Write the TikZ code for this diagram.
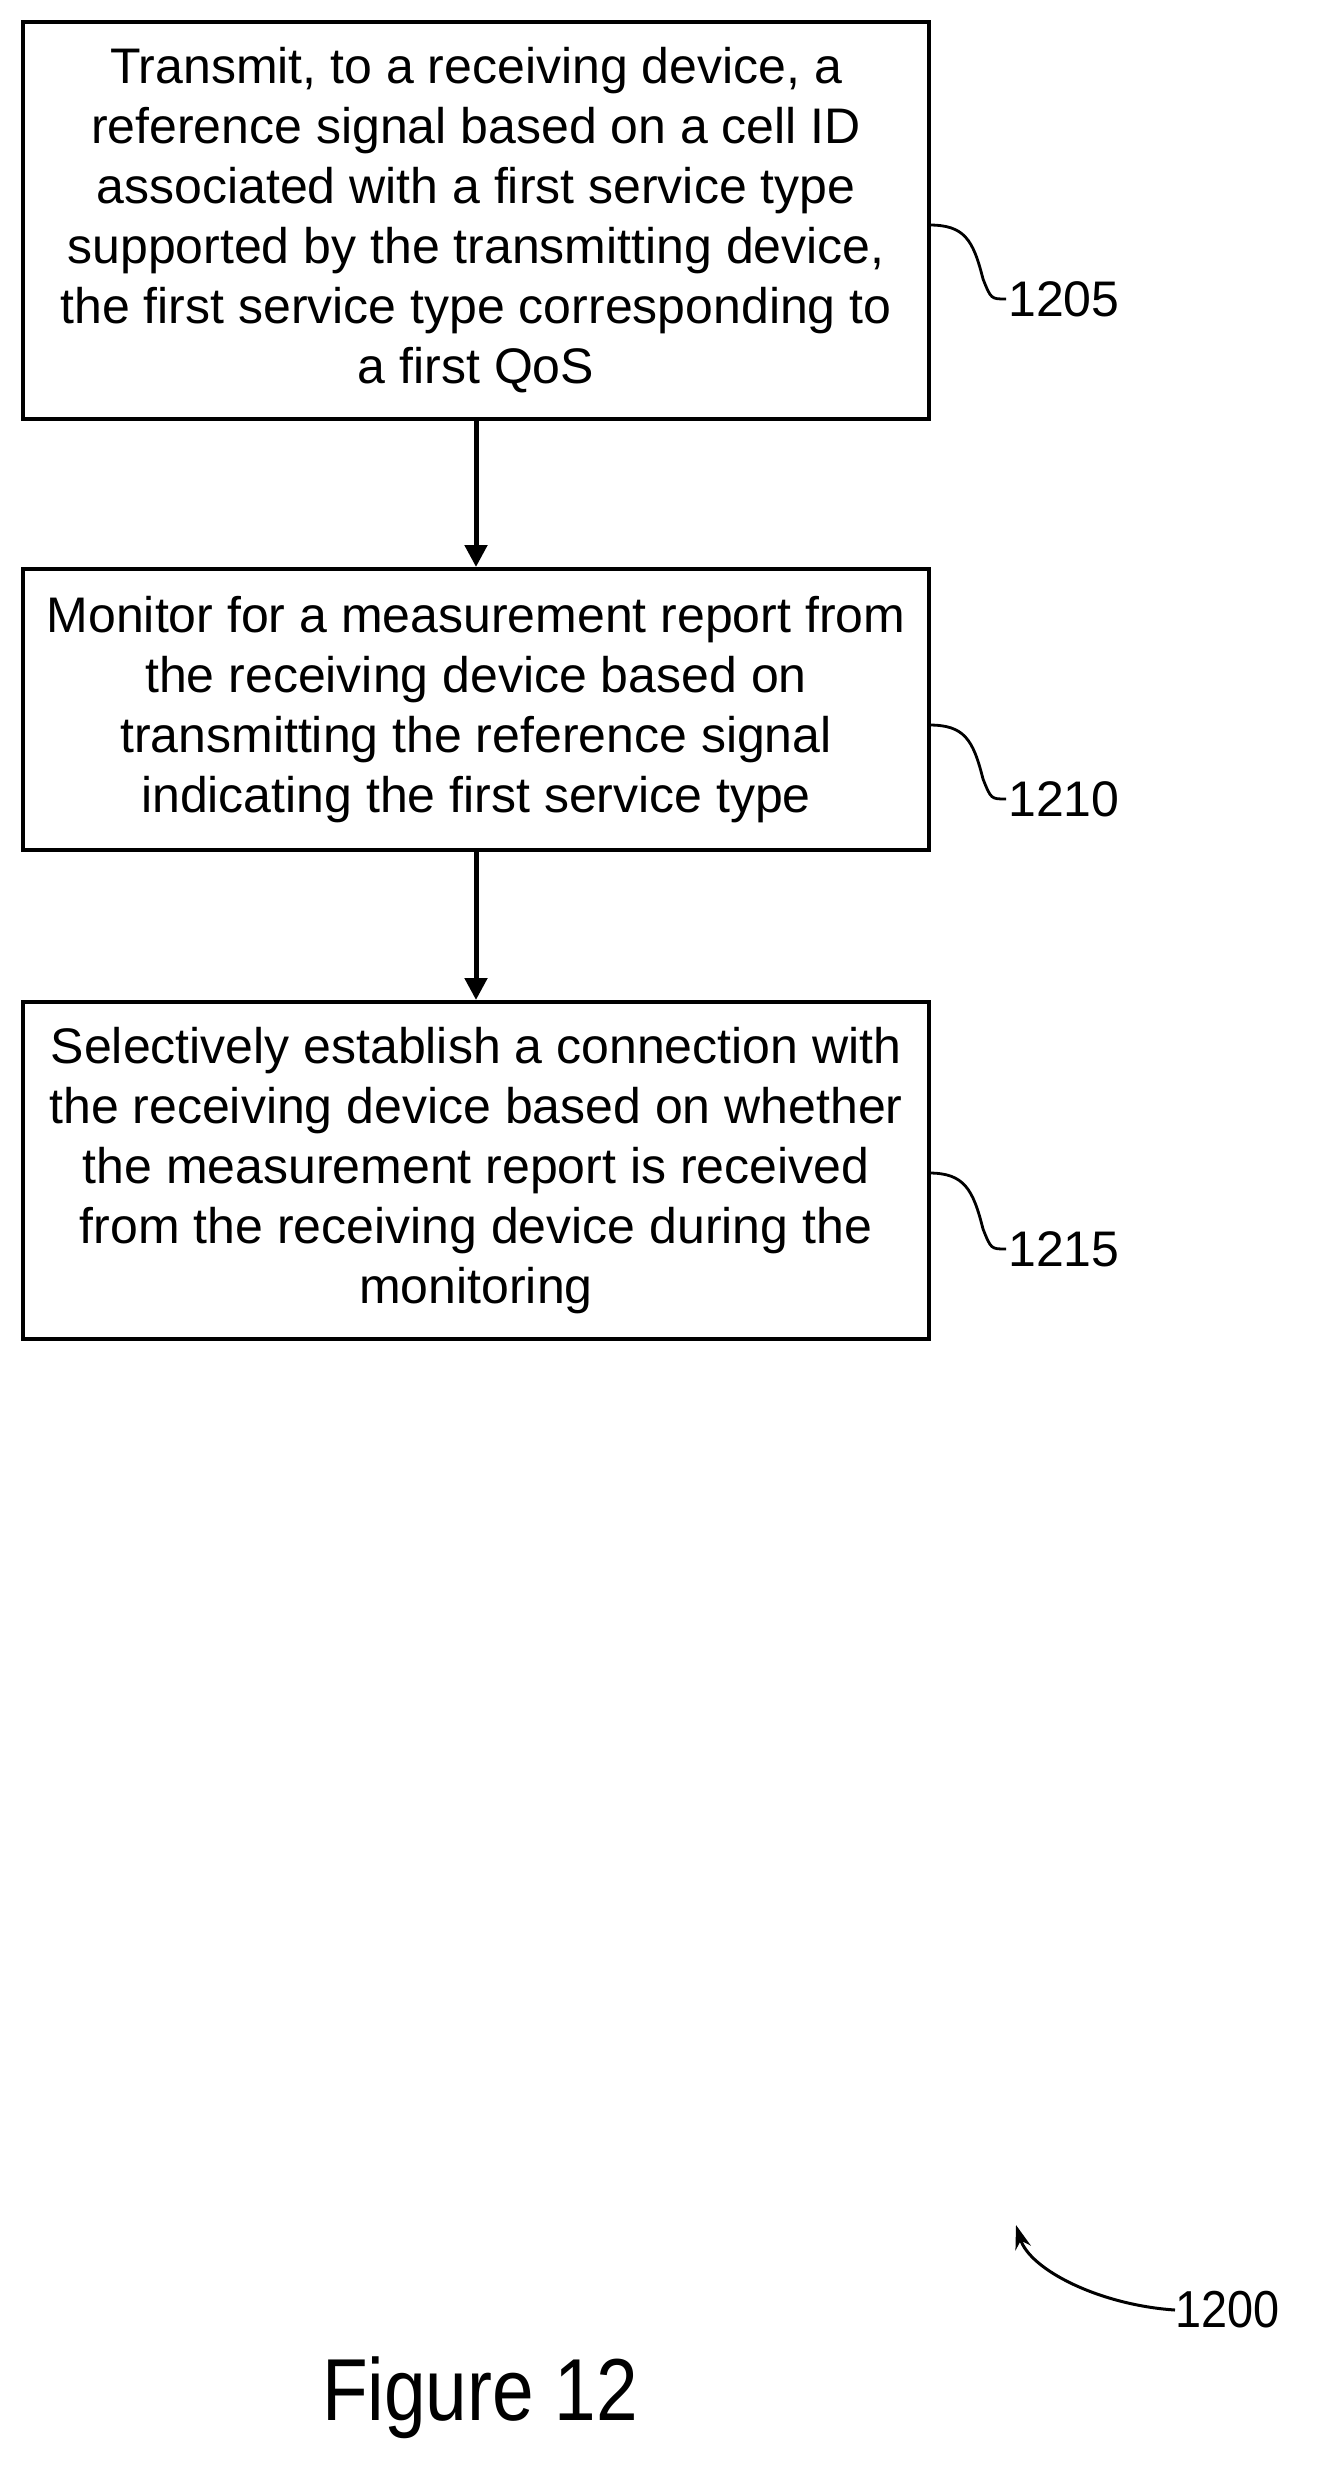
\documentclass[tikz,border=0pt]{standalone}
\usepackage{fontspec}
\setmainfont{Liberation Sans}
\usetikzlibrary{arrows.meta,calc}
\begin{document}
\begin{tikzpicture}[x=1pt,y=-1pt,
  box/.style={draw,line width=4pt,inner sep=0pt,align=center,font=\fontsize{50}{60}\selectfont},
  lbl/.style={font=\fontsize{50}{55}\selectfont,anchor=west,inner sep=0pt},
  arr/.style={line width=5pt,-{Triangle[length=22pt,width=22pt]}},
  sq/.style={line width=2.8pt}]
\useasboundingbox (0,0) rectangle (1320,2467);
\node[box,minimum width=906pt,minimum height=397pt] (b1) at (476,220.5) {Transmit, to a receiving device, a\\reference signal based on a cell ID\\associated with a first service type\\supported by the transmitting device,\\the first service type corresponding to\\a first QoS};
\node[box,minimum width=906pt,minimum height=281pt] (b2) at (476,709.5) {Monitor for a measurement report from\\the receiving device based on\\transmitting the reference signal\\indicating the first service type};
\node[box,minimum width=906pt,minimum height=337pt] (b3) at (476,1170.5) {Selectively establish a connection with\\the receiving device based on whether\\the measurement report is received\\from the receiving device during the\\monitoring};
\draw[arr] (b1.south) -- (b2.north);
\draw[arr] (b2.south) -- (b3.north);
\node[lbl] (l1) at (1008,299) {1205};
\node[lbl] (l2) at (1008,799) {1210};
\node[lbl] (l3) at (1008,1249) {1215};
\coordinate (s1) at (929,225);
\coordinate (s2) at (929,725);
\coordinate (s3) at (929,1173);
\foreach \s/\l in {s1/l1,s2/l2,s3/l3}
  \draw[sq] (\s) .. controls ++(35,0) and ++(-10,-40) .. ($(\l.west)+(-25,-20)$) .. controls ++(8,20) and ++(-15,0) .. ($(\l.west)+(-2,0)$);
\node[lbl,font=\fontsize{52}{55}\selectfont,xscale=0.9] (l0) at (1175,2310) {1200};
\coordinate (t0) at (1016,2225);
\draw[line width=3pt,-{Stealth[length=24pt,width=16pt]}] (l0.west) .. controls (1100,2305) and (1030,2270) .. (t0);
\node[font=\fontsize{88}{90}\selectfont,inner sep=0pt,xscale=0.85] (fig) at (480,2398) {Figure 12};
\end{tikzpicture}
\end{document}
